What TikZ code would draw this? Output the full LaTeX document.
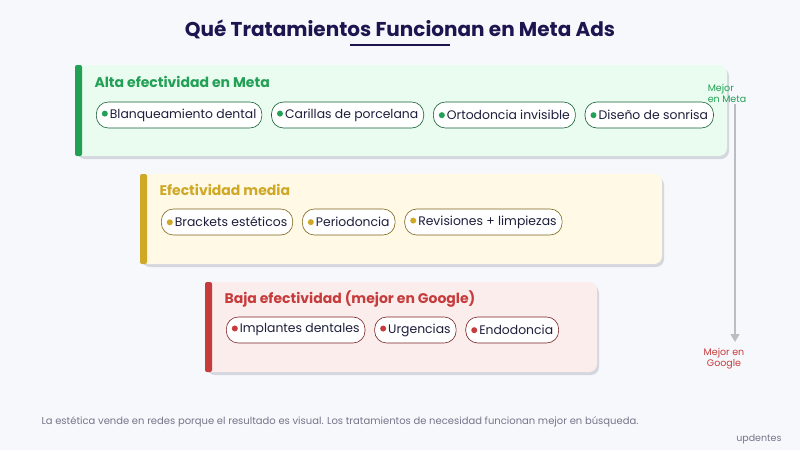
\documentclass[tikz,border=0pt]{standalone}
\usepackage{fontspec}
\setmainfont{Poppins}
\usetikzlibrary{positioning, calc, arrows.meta}
\definecolor{bg}{HTML}{F7F8FC}
\definecolor{navy}{HTML}{1E1450}
\definecolor{altaC}{HTML}{22A055}
\definecolor{altaF}{HTML}{EAFBEF}
\definecolor{mediaC}{HTML}{CFA826}
\definecolor{mediaF}{HTML}{FFF9E6}
\definecolor{bajaC}{HTML}{C63C3C}
\definecolor{bajaF}{HTML}{FCEDED}
\definecolor{shadowC}{HTML}{D5D7DE}
\definecolor{textC}{HTML}{1E1E3C}
\definecolor{grayC}{HTML}{75758A}
\tikzset{
  pill/.style={draw=#1!60!black, line width=0.6pt, rounded corners=12pt, fill=white, minimum height=26pt,
    inner xsep=5.5pt, font=\fontsize{12.4}{14}\selectfont, text=textC, anchor=west},
  panelhead/.style={anchor=west, font=\fontsize{14}{16}\selectfont\bfseries, text=#1},
}
\newcommand{\dotlabel}[2]{\textcolor{#1}{\raisebox{1.5pt}{\tikz\fill (0,0) circle (3pt);}}\,#2}
\newcommand{\panelbox}[5]{% x1 y1 x2 y2 colour
  \fill[shadowC, rounded corners=8pt] (#1+2,#2+3) rectangle (#3+2,#4+3);
  \fill[#5F, rounded corners=8pt] (#1,#2) rectangle (#3,#4);
  \fill[#5C, rounded corners=2pt] (#1,#2) rectangle (#1+7,#4);
}
\begin{document}
\begin{tikzpicture}[x=1pt, y=-1pt]
  \fill[bg] (0,0) rectangle (800,450);
  \useasboundingbox (0,0) rectangle (800,450);

  % title
  \node[font=\fontsize{20}{24}\selectfont\bfseries, text=navy] (title) at (400,29) {Qué Tratamientos Funcionan en Meta Ads};
  \draw[navy, line width=1.5pt] (350,45) -- (450,45);

  % alta
  \panelbox{75}{65}{727}{156}{alta}
  \node[panelhead=altaC] (altaT) at (91,82) {Alta efectividad en Meta};
  \node[pill=altaC] (a1) at (96,115) {\dotlabel{altaC}{Blanqueamiento dental}};
  \node[pill=altaC, right=9pt of a1] (a2) {\dotlabel{altaC}{Carillas de porcelana}};
  \node[pill=altaC, right=9pt of a2] (a3) {\dotlabel{altaC}{Ortodoncia invisible}};
  \node[pill=altaC, right=9pt of a3] (a4) {\dotlabel{altaC}{Diseño de sonrisa}};

  % media
  \panelbox{140}{174}{662}{264}{media}
  \node[panelhead=mediaC] (mediaT) at (156,190) {Efectividad media};
  \node[pill=mediaC] (m1) at (161,222) {\dotlabel{mediaC}{Brackets estéticos}};
  \node[pill=mediaC, right=9pt of m1] (m2) {\dotlabel{mediaC}{Periodoncia}};
  \node[pill=mediaC, right=9pt of m2] (m3) {\dotlabel{mediaC}{Revisiones + limpiezas}};

  % baja
  \panelbox{205}{282}{597}{372}{baja}
  \node[panelhead=bajaC] (bajaT) at (221,299) {Baja efectividad (mejor en Google)};
  \node[pill=bajaC] (b1) at (226,330) {\dotlabel{bajaC}{Implantes dentales}};
  \node[pill=bajaC, right=9pt of b1] (b2) {\dotlabel{bajaC}{Urgencias}};
  \node[pill=bajaC, right=9pt of b2] (b3) {\dotlabel{bajaC}{Endodoncia}};

  % scale arrow
  \node[font=\fontsize{9.5}{11}\selectfont, text=altaC, align=left] (meta) at (727,93) {Mejor\\en Meta};
  \node[font=\fontsize{9.5}{11}\selectfont, text=bajaC, align=center] (google) at (724,359) {Mejor en\\Google};
  \coordinate (topA) at (735,104);
  \coordinate (botA) at (735,342);
  \draw[shadowC!70!gray, line width=1.6pt, -{Triangle[length=8pt, width=9pt]}] (topA) -- (botA);

  % footer
  \node[anchor=west, font=\fontsize{10}{12}\selectfont, text=grayC] (note) at (38,422) {La estética vende en redes porque el resultado es visual. Los tratamientos de necesidad funcionan mejor en búsqueda.};
  \node[anchor=east, font=\fontsize{9.5}{11}\selectfont, text=grayC] (brand) at (785,439) {updentes};
\end{tikzpicture}
\end{document}
